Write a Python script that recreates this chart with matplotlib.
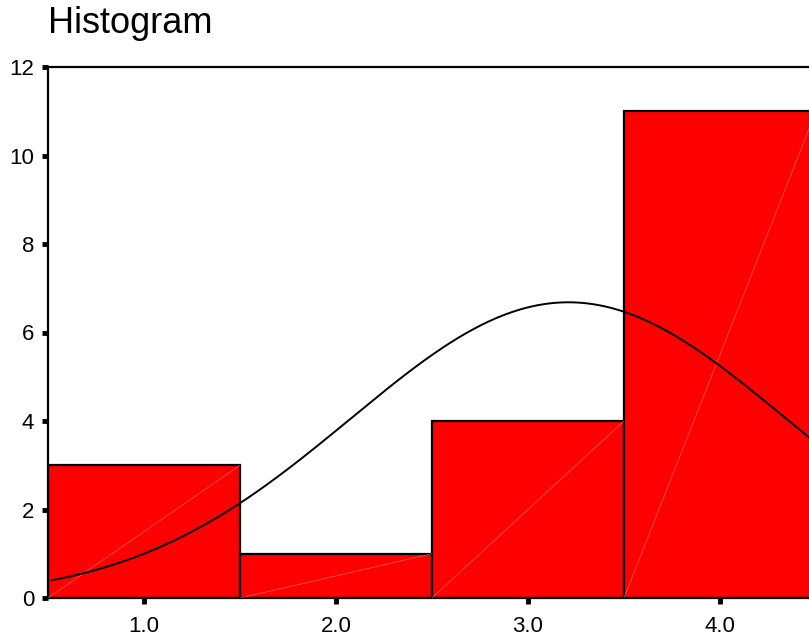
import numpy as np
import matplotlib
matplotlib.use("Agg")
import matplotlib.pyplot as plt

plt.rcParams['font.family'] = ['Liberation Sans', 'DejaVu Sans']

# frequencies per score
scores = [1.0, 2.0, 3.0, 4.0]
counts = [3, 1, 4, 11]
tick_labels = ["1.0", "2.0", "3.0", "4.0"]
yticks = [0, 2, 4, 6, 8, 10, 12]

fig = plt.figure(figsize=(8.09, 6.39), dpi=100)
# plot area runs a little past the right edge of the figure
ax = fig.add_axes([48 / 809, 41 / 639, 768 / 809, 531 / 639])

width = 1.0
ax.bar(scores, counts, width=width, color="#ff0000", edgecolor="black",
       linewidth=1.6, zorder=2)

# faint seam across each bar
for x, c in zip(scores, counts):
    ax.plot([x - width / 2, x + width / 2], [0, c], color="#ff9a9a",
            linewidth=0.6, alpha=0.55, zorder=3)

# normal curve from the sample mean and sd
values = np.repeat(scores, counts)
mean = values.mean()
sd = values.std(ddof=1)
xs = np.linspace(0.52, 4.5, 300)
ys = len(values) * width / (sd * np.sqrt(2 * np.pi)) * np.exp(-0.5 * ((xs - mean) / sd) ** 2)
ax.plot(xs, ys, color="black", linewidth=1.4, zorder=4)

ax.set_xlim(0.5, 4.5)
ax.set_ylim(0, 12)
ax.set_xticks(scores)
ax.set_xticklabels(tick_labels)
ax.set_yticks(yticks)
ax.tick_params(axis="y", direction="out", length=4, width=3.5, colors="black",
               labelsize=16, pad=6)
ax.tick_params(axis="x", direction="out", length=4, width=3.5, colors="black",
               labelsize=16, pad=9)
for s in ["left", "top", "bottom"]:
    ax.spines[s].set_linewidth(1.6)
ax.spines["right"].set_visible(False)

fig.text(48 / 809, 1 - 33 / 639, "Histogram", fontsize=26, ha="left", va="baseline")

fig.savefig("out.png", dpi=100)
